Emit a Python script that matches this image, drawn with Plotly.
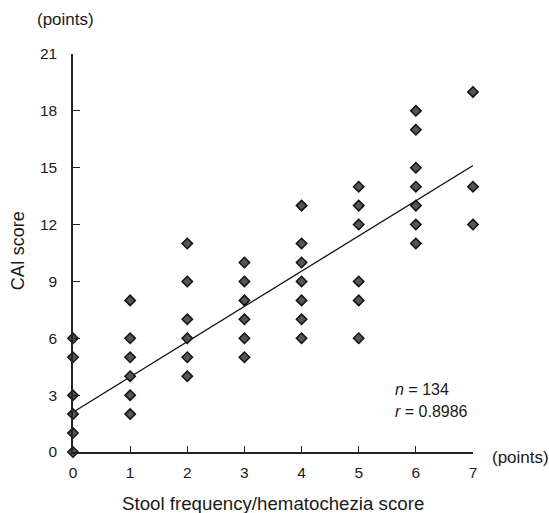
import plotly.graph_objects as go

# Data
x_vals = [0]*6 + [1]*6 + [2]*6 + [3]*6 + [4]*7 + [5]*6 + [6]*7 + [7]*3
y_vals = [0, 1, 2, 3, 5, 6,
          2, 3, 4, 5, 6, 8,
          4, 5, 6, 7, 9, 11,
          5, 6, 7, 8, 9, 10,
          6, 7, 8, 9, 10, 11, 13,
          6, 8, 9, 12, 13, 14,
          11, 12, 13, 14, 15, 17, 18,
          12, 14, 19]
fit_x = [0, 7]
fit_y = [2.1, 15.12]
x_ticks = [0, 1, 2, 3, 4, 5, 6, 7]
y_ticks = [0, 3, 6, 9, 12, 15, 18, 21]

W, H = 549, 513
L, R, T, B = 72.7, 549 - 472.7, 54, 513 - 452
FONT = "Liberation Sans, Arial, sans-serif"
TXT = "#1a1a1a"

def px(xp):
    return (xp - L) / (W - L - R)

def py(yp):
    return (H - B - yp) / (H - T - B)

fig = go.Figure()
fig.add_trace(go.Scatter(x=fit_x, y=fit_y, mode="lines",
                         line=dict(color="#111", width=1.3), showlegend=False,
                         cliponaxis=False))
fig.add_trace(go.Scatter(x=x_vals, y=y_vals, mode="markers",
                         marker=dict(symbol="diamond", size=8, color="#555",
                                     line=dict(color="#111", width=1.5)),
                         showlegend=False, cliponaxis=False))

fig.update_layout(
    width=W, height=H,
    margin=dict(l=L, r=R, t=T, b=B, pad=0),
    paper_bgcolor="white", plot_bgcolor="white",
    font=dict(family=FONT, size=15, color=TXT),
    xaxis=dict(range=[0, 7], tickvals=x_ticks, ticks="inside", ticklen=6,
               tickcolor="#222", tickwidth=1.2, showline=True, linecolor="#222",
               linewidth=1.5, showgrid=False, zeroline=False,
               ticklabelstandoff=6, tickfont=dict(size=15.5)),
    yaxis=dict(range=[0, 21], tickvals=y_ticks, ticks="inside", ticklen=7,
               tickcolor="#222", tickwidth=1.2, showline=True, linecolor="#222",
               linewidth=1.5, showgrid=False, zeroline=False,
               ticklabelstandoff=11, tickfont=dict(size=15.5)),
)

ann = [
    dict(text="(points)", x=px(35), y=py(20), xanchor="left", yanchor="middle", size=17),
    dict(text="(points)", x=px(490), y=py(457), xanchor="left", yanchor="middle", size=17),
    dict(text="Stool frequency/hematochezia score", x=px(273), y=py(503),
         xanchor="center", yanchor="middle", size=18.7),
    dict(text="<i>n</i> = 134", x=px(393), y=py(389), xanchor="left", yanchor="middle", size=16),
    dict(text="<i>r</i> = 0.8986", x=px(393), y=py(411), xanchor="left", yanchor="middle", size=16),
]
for a in ann:
    fig.add_annotation(text=a["text"], x=a["x"], y=a["y"], xref="paper", yref="paper",
                       xanchor=a["xanchor"], yanchor=a["yanchor"], showarrow=False,
                       font=dict(family=FONT, size=a["size"], color=TXT))
fig.add_annotation(text="CAI score", x=px(18), y=py(251), xref="paper", yref="paper",
                   textangle=-90, xanchor="center", yanchor="middle", showarrow=False,
                   font=dict(family=FONT, size=18, color=TXT))

fig.write_html("out.html")
